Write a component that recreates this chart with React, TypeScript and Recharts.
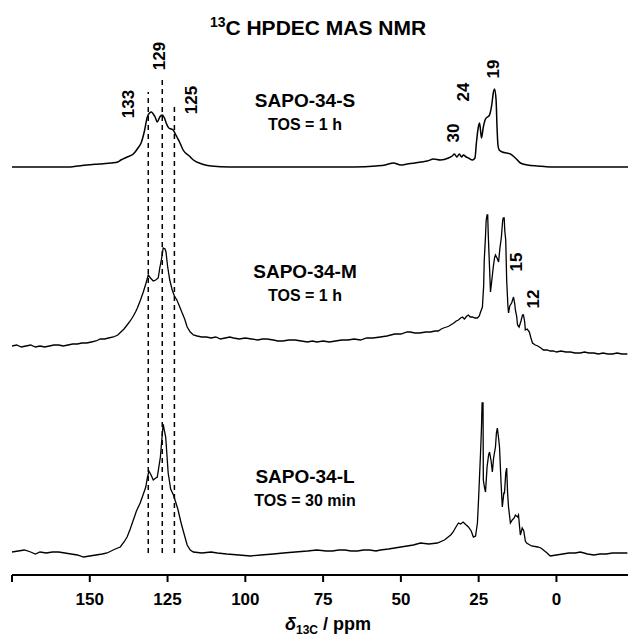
import { LineChart, Line, XAxis, YAxis, ReferenceLine } from 'recharts';

// chemical shift (ppm) vs. intensity above each trace's own baseline
const ppmTicks = [175, 150, 125, 100, 75, 50, 25, 0];

const offsetS = 408;
const offsetM = 229;
const offsetL = 22;

const traceS: [number, number][] = [
  [175, 0], [168, 0], [162, 0], [157, 0], [154, 1], [151, 2], [147, 3], [143, 4], [141, 5],
  [140, 7], [138, 10], [136, 13], [134.5, 19], [133.5, 24], [132.5, 35], [131.5, 50], [130.8, 54],
  [130.2, 55], [129.6, 53], [129, 50], [128.3, 45], [127.5, 50], [126.7, 52], [126, 49], [125.3, 43],
  [124.6, 39], [123.8, 38], [123.2, 37], [122.5, 33], [122, 30], [121, 24], [120, 17], [118, 11],
  [116.7, 7], [114, 3], [111, 1], [105, 0], [95, 0], [85, 0], [75, 0], [65, 0], [58, 1], [55, 2],
  [52.4, 4], [50, 2], [48, 3], [45.5, 4], [43.7, 5], [41.5, 6], [39.5, 8], [37.3, 7], [34.7, 9],
  [33.5, 11], [32.8, 13], [32, 10], [31.2, 13], [30.5, 10], [29.9, 12], [29, 10], [28.3, 9],
  [27, 7], [26.2, 9], [25.7, 25], [25.1, 40], [24.7, 44], [24.1, 29], [23.5, 40], [22.8, 48],
  [22.2, 50], [21.7, 51], [21.3, 54], [20.8, 62], [20.3, 74], [19.9, 78], [19.4, 67], [19.1, 40],
  [18.8, 22], [18.4, 17], [17.4, 15], [16, 14], [14.8, 13], [13.2, 9], [11.6, 4], [9.3, 2],
  [6, 1], [2, 0], [-5, 0], [-12, 0], [-18, 0], [-23, 0],
];

const traceM: [number, number][] = [
  [175, 0], [173.5, 1], [172, -1], [170.5, 0], [169, 1], [167.5, -1], [166, 0], [164.5, -1],
  [163, 0], [161.5, 1], [160, 1], [158.5, 0], [157, 1], [155.5, 2], [154, 2], [152.5, 3],
  [151, 3], [149.5, 4], [148, 5], [146.6, 7], [145.2, 7], [144, 8], [142.4, 9], [141, 11],
  [140, 14], [139, 17], [138, 21], [137, 25], [136, 30], [135.3, 34], [134.7, 38], [133.7, 46],
  [132.8, 54], [132, 62], [131.2, 71], [130.5, 68], [129.6, 65], [128.8, 66], [128, 68],
  [127.5, 78], [127, 86], [126.4, 98], [125.8, 97], [125.5, 94], [125, 80], [124.3, 66],
  [123.5, 56], [122.8, 50], [122, 46], [121.2, 40], [120.3, 33], [119.5, 27], [118.7, 19],
  [117.7, 14], [116.7, 11], [115.5, 10], [114, 9], [112.5, 9], [111, 8], [109.5, 9], [108, 7],
  [106.5, 8], [105, 9], [103.8, 8], [102, 7], [100, 8], [98, 7], [96, 6], [94.5, 7], [93, 7],
  [91, 6], [89.5, 5], [88, 5], [86, 6], [84, 6], [82, 5], [80, 4], [78.5, 5], [77, 4], [75, 5],
  [73, 4], [71, 5], [69, 6], [67, 6], [65, 7], [63, 6], [61, 8], [59, 8], [56.6, 9], [54.5, 10],
  [52, 12], [50, 12], [48, 14], [47, 14], [45.5, 13], [44, 13], [42, 14], [40.5, 14], [39, 15],
  [38, 15], [37, 17], [36.3, 18], [35.3, 19], [34.5, 20], [33.5, 22], [33, 23], [32.2, 25],
  [31.5, 26], [30.8, 28], [30.2, 29], [29.6, 27], [29.3, 28], [28.8, 30], [28.3, 31], [27.7, 29],
  [27, 29], [26.2, 28], [25.4, 28], [24.8, 30], [24.5, 33], [23.8, 39], [23.4, 60], [23.2, 86],
  [22.8, 110], [22.6, 125], [22.3, 131], [22.1, 131], [21.9, 110], [21.6, 86], [21.2, 54],
  [20.8, 65], [20.3, 79], [19.9, 88], [19.6, 91], [19.1, 88], [18.6, 84], [18.2, 97], [17.7, 109],
  [17.3, 125], [17.1, 128], [16.8, 128], [16.6, 115], [16.3, 106], [16, 66], [15.6, 40],
  [15.4, 33], [15, 40], [14.4, 43], [13.8, 49], [13.4, 42], [13.2, 36], [12.8, 30], [12.5, 21],
  [12, 19], [11.4, 25], [10.9, 31], [10.6, 31], [10.2, 24], [10, 16], [9.4, 17], [8.7, 14],
  [8.2, 8], [7.7, 3], [6.8, 1], [6, 0], [5, -2], [4.2, -4], [3, -4], [2, -5], [1, -5], [0, -6],
  [-1.5, -5], [-3, -6], [-4.5, -6], [-6, -7], [-7.7, -7], [-9, -6], [-10.5, -7], [-12, -7],
  [-13.5, -8], [-15, -7], [-16.5, -8], [-18, -8], [-19.5, -7], [-21, -8], [-22.8, -8],
];

const traceL: [number, number][] = [
  [175, 1], [173, 2], [171, 3], [169, 1], [167.5, -1], [166, 1], [164, 0], [162, 1], [160, 1],
  [158, 0], [156, -1], [154, -2], [152, -4], [150, -3], [148, -2], [146, -1], [144.4, 0],
  [142.5, 3], [141, 5], [140.2, 6], [139, 11], [138, 16], [137, 24], [136, 33], [135, 42],
  [133.8, 50], [133, 57], [132, 66], [131.5, 75], [131, 82], [130.3, 78], [129.6, 73],
  [128.8, 75], [128.3, 76], [127.7, 88], [127.3, 96], [126.8, 115], [126.4, 129], [126, 122],
  [125.6, 116], [124.8, 80], [124, 64], [123.1, 58], [122.5, 52], [121.7, 44], [120.8, 32],
  [120.3, 26], [119.5, 17], [118.7, 8], [117.7, 3], [116.7, 1], [114, 0], [111, 1], [109, 0],
  [106, -1], [102, -2], [98.4, -3], [95, -2], [91, -1], [87.8, 0], [84, 1], [80, 2], [77, 3],
  [74, 2], [72, 2], [70, 3], [68, 3], [66, 2], [64, 2], [62, 3], [60, 3], [58, 2], [56.6, 3],
  [54, 4], [52, 5], [50, 6], [48, 7], [46, 8], [43.7, 10], [41, 9], [38.3, 10], [36, 13],
  [34, 18], [33.2, 21], [32.5, 25], [31.5, 30], [30.8, 29], [30, 31], [29, 28], [28.3, 26],
  [27.4, 22], [26.7, 16], [26, 17], [25.4, 30], [25, 56], [24.4, 100], [24.1, 125], [23.9, 150],
  [23.6, 150], [23.5, 73], [23.1, 65], [22.8, 61], [22.3, 86], [21.8, 98], [21.5, 101], [21, 92],
  [20.6, 81], [20.2, 95], [19.6, 106], [19.3, 120], [19, 125], [18.6, 115], [18.3, 106],
  [17.8, 70], [17.4, 46], [16.9, 60], [16.7, 60], [16.3, 80], [16, 85], [15.7, 60], [15.4, 46],
  [14.8, 30], [14.2, 33], [13.6, 35], [13.2, 38], [12.5, 36], [12.2, 38], [11.6, 18], [11, 25],
  [10.5, 22], [10, 12], [9.6, 10], [8, 7], [6, 6], [5, 5], [3, 0], [2, -3], [0, -2], [-2, -1],
  [-4, 0], [-6, 0], [-7.7, 1], [-10, -1], [-12, -2], [-14, -1], [-16, -1], [-18, 0], [-20, 0],
  [-22.8, 0],
];

// dashed guide lines: [ppm position, top of the line in chart units]
const guideLines: [number, number][] = [
  [131.2, 483],
  [126.7, 498],
  [122.8, 472],
];
const guideBottom = 22;

// rotated peak labels: [text, centre x, centre y]
const peakLabels: [string, number, number][] = [
  ['133', 128, 104],
  ['129', 159, 56],
  ['125', 191, 100],
  ['30', 453, 133],
  ['24', 463, 92],
  ['19', 493, 69],
  ['15', 516, 262],
  ['12', 533, 299],
];

// sample captions: [name, time on stream, centre x, baseline y of the name]
const sampleLabels: [string, string, number, number][] = [
  ['SAPO-34-S', 'TOS = 1 h', 305, 107],
  ['SAPO-34-M', 'TOS = 1 h', 305, 278],
  ['SAPO-34-L', 'TOS = 30 min', 305, 483],
];

const toRows = (trace: [number, number][], offset: number) =>
  trace.map(([ppm, h]) => ({ ppm, v: h + offset }));

const FONT = '"Liberation Sans", Arial, sans-serif';

export default function App() {
  return (
    <div style={{ position: 'absolute', left: 0, top: 0, background: '#fff' }}>
      <LineChart width={630} height={640} margin={{ top: 40, right: 2, bottom: 35, left: 12 }}>
        <XAxis
          dataKey="ppm"
          type="number"
          domain={[-23, 175]}
          reversed
          allowDataOverflow
          ticks={ppmTicks}
          tickFormatter={(t: number) => (t === 175 ? '' : String(t))}
          height={30}
          tickSize={7}
          tickMargin={11}
          axisLine={{ stroke: '#000', strokeWidth: 2 }}
          tickLine={{ stroke: '#000', strokeWidth: 2 }}
          tick={{ fill: '#000', fontSize: 17, fontWeight: 'bold', fontFamily: FONT }}
        />
        <YAxis type="number" domain={[0, 535]} hide allowDataOverflow />
        {guideLines.map(([x, top]) => (
          <ReferenceLine
            key={x}
            segment={[
              { x, y: guideBottom },
              { x, y: top },
            ]}
            stroke="#000"
            strokeWidth={1.5}
            strokeDasharray="5 4"
          />
        ))}
        <Line
          data={toRows(traceS, offsetS)}
          dataKey="v"
          type="monotone"
          stroke="#000"
          strokeWidth={1.5}
          dot={false}
          isAnimationActive={false}
        />
        <Line
          data={toRows(traceM, offsetM)}
          dataKey="v"
          type="linear"
          stroke="#000"
          strokeWidth={1.3}
          dot={false}
          isAnimationActive={false}
        />
        <Line
          data={toRows(traceL, offsetL)}
          dataKey="v"
          type="linear"
          stroke="#000"
          strokeWidth={1.3}
          dot={false}
          isAnimationActive={false}
        />
        <text x={318} y={35} textAnchor="middle" fontFamily={FONT} fontWeight="bold" fontSize={21}>
          <tspan fontSize={14} dy={-8}>13</tspan>
          <tspan dy={8}>C HPDEC MAS NMR</tspan>
        </text>
        {peakLabels.map(([t, x, y]) => (
          <text
            key={t}
            x={x}
            y={y}
            transform={`rotate(-90, ${x}, ${y})`}
            textAnchor="middle"
            dominantBaseline="central"
            fontFamily={FONT}
            fontWeight="bold"
            fontSize={17}
          >
            {t}
          </text>
        ))}
        {sampleLabels.map(([name, tos, x, y]) => (
          <g key={name} fontFamily={FONT} fontWeight="bold" textAnchor="middle">
            <text x={x} y={y} fontSize={19}>
              {name}
            </text>
            <text x={x} y={y + 23} fontSize={16}>
              {tos}
            </text>
          </g>
        ))}
        <text x={328} y={630} textAnchor="middle" fontFamily={FONT} fontWeight="bold" fontSize={18}>
          <tspan fontStyle="italic">δ</tspan>
          <tspan fontSize={12} dy={4}>13C</tspan>
          <tspan dy={-4}> / ppm</tspan>
        </text>
      </LineChart>
    </div>
  );
}
